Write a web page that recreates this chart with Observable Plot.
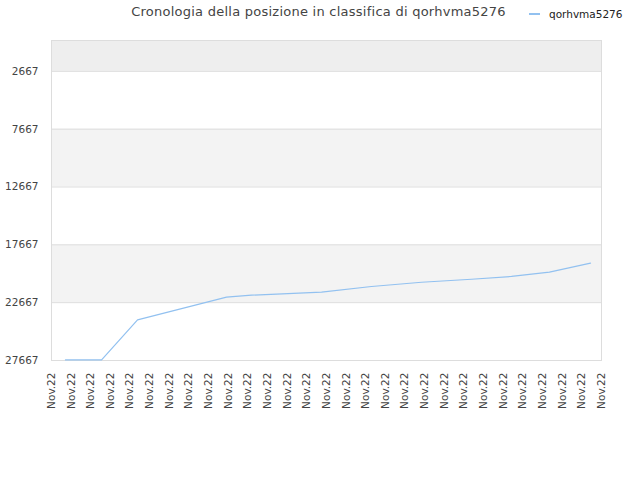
<!DOCTYPE html>
<html>
<head>
<meta charset="utf-8">
<script src="https://cdn.jsdelivr.net/npm/d3@7"></script>
<script src="https://cdn.jsdelivr.net/npm/@observablehq/plot@0.6"></script>
<style>
  body { margin: 0; background: #fff; font-family: "DejaVu Sans", sans-serif; }
  #wrap { position: relative; width: 640px; height: 480px; }
  #head { position: relative; width: 640px; height: 30px; }
  #title { position: absolute; left: 0; width: 637px; top: 4px; text-align: center; font-size: 13px; letter-spacing: 0.25px; color: #444; }
  #legend { position: absolute; left: 529px; top: 8px; font-size: 10.5px; color: #222; display: flex; align-items: center; }
  #legend .sw { display: inline-block; width: 11px; height: 2px; background: #92c1f0; margin-right: 9px; }
</style>
</head>
<body>
<div id="wrap">
  <div id="head">
    <div id="title">Cronologia della posizione in classifica di qorhvma5276</div>
    <div id="legend"><span class="sw"></span><span>qorhvma5276</span></div>
  </div>
  <div id="chart"></div>
</div>
<script>
// x position in label slots (0..28)
const seriesName = "qorhvma5276";
const xPos = [0.71, 2.55, 4.38, 8.91, 10.18, 13.75, 16.29, 18.84, 21.38, 23.42, 25.35, 27.44];
const ranks = [27620, 27620, 24150, 22190, 22020, 21760, 21270, 20900, 20640, 20400, 20030, 19250];
const tickLabels = Array.from({length: 29}, () => "Nov.22");
const yTicks = [2667, 7667, 12667, 17667, 22667, 27667];
const bandStarts = [0, 7667, 17667];
const bandEnds = [2667, 12667, 22667];
const bandColors = ["#eeeeee", "#f3f3f3", "#f3f3f3"];

const line = xPos.map((x, i) => ({x, rank: ranks[i]}));
const bands = bandStarts.map((s, i) => ({y1: s, y2: bandEnds[i], c: bandColors[i]}));
const xTicks = tickLabels.map((_, i) => i);

const chart = Plot.plot({
  width: 640,
  height: 450,
  marginTop: 10,
  marginBottom: 120,
  marginLeft: 51,
  marginRight: 39,
  style: {fontFamily: "DejaVu Sans, sans-serif", fontSize: "10.5px", color: "#444", background: "#fff"},
  x: {domain: [0, 28], label: null},
  y: {domain: [0, 27667], reverse: true, label: null},
  marks: [
    Plot.rectY(bands, {x1: 0, x2: 28, y1: "y1", y2: "y2", fill: "c"}),
    Plot.ruleY(yTicks, {stroke: "#dddddd"}),
    Plot.frame({stroke: "#dddddd"}),
    Plot.line(line, {x: "x", y: "rank", stroke: "#92c1f0", strokeWidth: 1.2}),
    Plot.axisX({ticks: xTicks, tickFormat: i => tickLabels[i], tickRotate: -90, tickSize: 0, tickPadding: 12, fill: "#444"}),
    Plot.axisY({ticks: yTicks, tickFormat: d => String(d), tickSize: 0, tickPadding: 13, fill: "#444"})
  ]
});
document.getElementById("chart").appendChild(chart);
</script>
</body>
</html>
